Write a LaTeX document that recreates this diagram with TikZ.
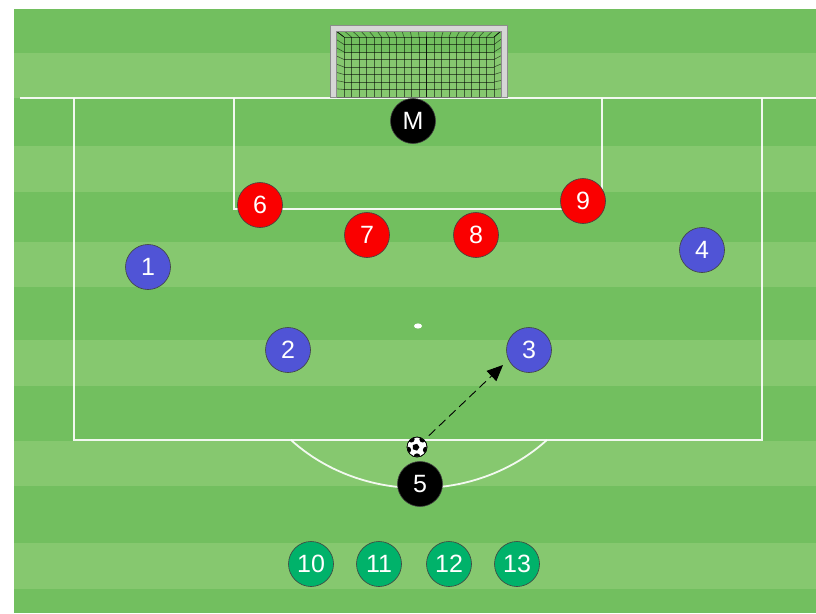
\documentclass[tikz,border=0pt]{standalone}
\usepackage{fontspec}
\setmainfont{Liberation Sans}
\usetikzlibrary{arrows.meta,calc}
\definecolor{dk}{RGB}{114,191,95}
\definecolor{lt}{RGB}{134,200,111}
\definecolor{pred}{RGB}{250,0,0}
\definecolor{pblue}{RGB}{80,84,214}
\definecolor{pgreen}{RGB}{0,178,106}
\definecolor{pblack}{RGB}{0,0,0}
\definecolor{postgray}{RGB}{214,214,214}
\begin{document}
\begin{tikzpicture}[x=1pt,y=-1pt,
  player/.style={circle, minimum size=45pt, inner sep=0pt, draw=black!75, line width=0.6pt, text=white, font=\fontsize{25}{25}\selectfont},
  pline/.style={draw=white, opacity=0.9, line width=1.8pt},
  netline/.style={draw=black, opacity=0.55, line width=0.6pt},
  ballnode/.style={circle, minimum size=20pt, inner sep=0pt, fill=white, draw=black, line width=0.6pt}]
\useasboundingbox (0,0) rectangle (816,613);
\fill[white] (0,0) rectangle (816,613);
% stripes
\foreach \a/\b/\c in {9/53/dk,53/98/lt,98/146/dk,146/192/lt,192/242/dk,242/287/lt,287/340/dk,340/386/lt,386/441/dk,441/486/lt,486/543/dk,543/589/lt,589/613/dk}
  \fill[\c] (14,\a) rectangle (816,\b);
% pitch lines
\draw[pline] (20,98) -- (816,98);
\draw[pline] (74,98) -- (74,440) -- (762,440) -- (762,98);
\draw[pline] (234,98) -- (234,209) -- (602,209) -- (602,98);
\draw[pline] (291,440) arc[start angle=135.3, end angle=44.7, x radius=180, y radius=162];
\fill[white] (418,326) ellipse[x radius=4, y radius=2.6];
% goal net
\foreach \k in {0,...,20}{
  \draw[netline] ({344+7.5*\k},37) -- ({344+7.5*\k},97);
  \draw[netline] ({336+8.25*\k},31) -- ({344+7.5*\k},37);
}
\foreach \j in {0,...,8}{
  \draw[netline] (344,{37+7.5*\j}) -- (494,{37+7.5*\j});
  \draw[netline] (336,{31+8.25*\j}) -- (344,{37+7.5*\j});
  \draw[netline] (501,{31+8.25*\j}) -- (494,{37+7.5*\j});
}
\draw[netline] (336,31) -- (344,37) (501,31) -- (494,37);
\draw[draw=black, opacity=0.7, line width=0.8pt] (426,37) -- (426,97);
% goal frame
\filldraw[fill=postgray, draw=black!45, line width=0.6pt]
  (330,97) -- (330,25) -- (507,25) -- (507,97) -- (501,97) -- (501,31) -- (336,31) -- (336,97) -- cycle;
% players
\node[player, fill=pblack] (pM) at (413,121) {M};
\node[player, fill=pred] (p6) at (260,205) {6};
\node[player, fill=pred] (p7) at (367,235) {7};
\node[player, fill=pred] (p8) at (476,235) {8};
\node[player, fill=pred] (p9) at (583,201) {9};
\node[player, fill=pblue] (p1) at (148,267) {1};
\node[player, fill=pblue] (p4) at (702,250) {4};
\node[player, fill=pblue] (p2) at (288,350) {2};
\node[player, fill=pblue] (p3) at (529,350) {3};
\node[player, fill=pblack] (p5) at (420,484) {5};
\node[player, fill=pgreen] (p10) at (311,564) {10};
\node[player, fill=pgreen] (p11) at (379,564) {11};
\node[player, fill=pgreen] (p12) at (449,564) {12};
\node[player, fill=pgreen] (p13) at (517,564) {13};
% ball
\node[ballnode] (ball) at (417,447) {};
\begin{scope}
  \clip (417,447) circle[radius=9.7];
  \fill[black] (417,447) ++(90:3.6) -- ++(-54:3.6*1.1756) -- ++(-126:3.6*1.1756) -- ++(162:3.6*1.1756) -- ++(90:3.6*1.1756) -- cycle;
  \foreach \t in {90,162,234,306,18}{
    \fill[black] ($(417,447)+(\t:9.6)$) circle[radius=3.3];
  }
\end{scope}
\draw[black, line width=0.6pt] (417,447) circle[radius=10];
% pass arrow
\coordinate (tip) at (503,365);
\draw[black, line width=0.9pt, dash pattern=on 9pt off 5pt, shorten <=6pt, -{Triangle[length=16pt,width=14pt]}] (ball) -- (tip);
\end{tikzpicture}
\end{document}
